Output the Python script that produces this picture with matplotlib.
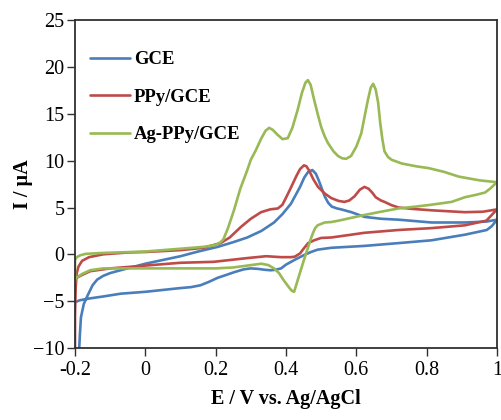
#!/usr/bin/env python3
"""
plot.py

Cyclic voltammograms of GCE, PPy/GCE and Ag-PPy/GCE.
Writes out.png (501 x 420 px).
"""

import matplotlib
matplotlib.use("Agg")
import matplotlib.pyplot as plt

# ============================================================
# DATA
# ============================================================

# GCE : forward scan then reverse scan
gce_potential = [
    -0.188, -0.186, -0.183, -0.175, -0.163, -0.15, -0.137, -0.12, -0.1,
    -0.071, -0.04, 0.0, 0.05, 0.1, 0.15, 0.206, 0.25, 0.29, 0.33, 0.366,
    0.39, 0.414, 0.44, 0.452, 0.463, 0.475, 0.485, 0.493, 0.5, 0.51, 0.52,
    0.53, 0.545, 0.557, 0.586, 0.623, 0.67, 0.72, 0.814, 0.909, 0.97, 1.0,
    0.985, 0.971, 0.909, 0.814, 0.72, 0.623, 0.529, 0.49, 0.471, 0.45,
    0.424, 0.4, 0.386, 0.37, 0.357, 0.34, 0.32, 0.3, 0.28, 0.253, 0.23,
    0.206, 0.18, 0.157, 0.13, 0.1, 0.05, 0.0, -0.07, -0.12, -0.157,
    -0.186, -0.2,
]
gce_current = [
    -10, -8.5, -6.7, -5.3, -4.3, -3.3, -2.7, -2.3, -2.0,
    -1.7, -1.4, -1.0, -0.6, -0.2, 0.3, 0.8, 1.3, 1.8, 2.5, 3.4,
    4.3, 5.4, 7.2, 8.2, 8.8, 9.0, 8.6, 7.9, 7.2, 6.2, 5.5,
    5.1, 4.9, 4.8, 4.5, 4.0, 3.8, 3.7, 3.4, 3.4, 3.5, 3.7,
    3.0, 2.6, 2.1, 1.5, 1.2, 0.9, 0.7, 0.5, 0.25, -0.1,
    -0.6, -1.1, -1.5, -1.65, -1.7, -1.65, -1.55, -1.5, -1.6, -1.9, -2.2,
    -2.5, -2.95, -3.3, -3.5, -3.6, -3.8, -4.0, -4.2, -4.5, -4.7,
    -4.9, -5.1,
]

# PPy/GCE
ppy_potential = [
    -0.2, -0.2, -0.198, -0.195, -0.19, -0.18, -0.16, -0.12, -0.05, 0.0,
    0.1, 0.166, 0.214, 0.24, 0.271, 0.3, 0.329, 0.355, 0.377, 0.39,
    0.406, 0.42, 0.43, 0.44, 0.451, 0.458, 0.465, 0.478, 0.491, 0.51,
    0.529, 0.55, 0.566, 0.58, 0.595, 0.61, 0.623, 0.635, 0.645, 0.655,
    0.67, 0.68, 0.7, 0.72, 0.76, 0.814, 0.909, 0.96, 1.0,
    0.97, 0.909, 0.814, 0.72, 0.623, 0.586, 0.529, 0.5, 0.48, 0.463,
    0.45, 0.44, 0.425, 0.414, 0.386, 0.343, 0.29, 0.194, 0.1, 0.0, -0.1,
    -0.157, -0.18, -0.2,
]
ppy_current = [
    -10, -6.5, -3.5, -2.0, -1.3, -0.7, -0.3, 0.0, 0.2, 0.25,
    0.45, 0.7, 1.2, 1.8, 2.9, 3.8, 4.5, 4.8, 4.9, 5.3,
    6.5, 7.6, 8.4, 9.1, 9.5, 9.4, 9.0, 8.0, 7.2, 6.5,
    6.0, 5.7, 5.6, 5.75, 6.2, 6.9, 7.2, 7.0, 6.6, 6.1,
    5.75, 5.6, 5.25, 5.0, 4.85, 4.7, 4.5, 4.55, 4.8,
    3.6, 3.1, 2.8, 2.6, 2.3, 2.1, 1.8, 1.75, 1.5, 1.2,
    0.6, 0.1, -0.25, -0.3, -0.3, -0.2, -0.4, -0.8, -0.9, -1.2, -1.5,
    -1.8, -2.2, -2.6,
]

# Ag-PPy/GCE
agppy_potential = [
    -0.2, -0.2, -0.195, -0.185, -0.17, -0.12, 0.0, 0.1, 0.166, 0.2,
    0.214, 0.222, 0.235, 0.252, 0.27, 0.29, 0.3, 0.314, 0.33, 0.342,
    0.352, 0.362, 0.375, 0.39, 0.405, 0.418, 0.433, 0.445, 0.455, 0.462,
    0.47, 0.48, 0.49, 0.5, 0.51, 0.519, 0.535, 0.548, 0.56, 0.571,
    0.585, 0.6, 0.614, 0.625, 0.633, 0.641, 0.648, 0.655, 0.662, 0.668,
    0.674, 0.68, 0.69, 0.7, 0.729, 0.77, 0.806, 0.85, 0.891, 0.95, 1.0,
    0.98, 0.966, 0.94, 0.909, 0.871, 0.814, 0.77, 0.72, 0.67, 0.623,
    0.586, 0.55, 0.529, 0.51, 0.49, 0.483, 0.477, 0.47, 0.465, 0.451,
    0.437, 0.428, 0.423, 0.417, 0.41, 0.394, 0.38, 0.366, 0.35, 0.33,
    0.31, 0.29, 0.25, 0.2, 0.0, -0.12, -0.157, -0.18, -0.2,
]
agppy_current = [
    -3.0, -0.6, -0.3, -0.1, 0.05, 0.15, 0.3, 0.6, 0.8, 1.0,
    1.3, 1.6, 2.8, 4.7, 7.0, 9.0, 10.1, 11.1, 12.4, 13.2,
    13.5, 13.3, 12.8, 12.3, 12.4, 13.5, 15.4, 17.2, 18.3, 18.6,
    18.1, 16.5, 15.0, 13.6, 12.6, 11.9, 11.0, 10.5, 10.25, 10.2,
    10.5, 11.5, 12.9, 15.0, 16.5, 17.8, 18.2, 17.6, 16.2, 14.0,
    12.3, 11.0, 10.4, 10.1, 9.7, 9.4, 9.2, 8.8, 8.3, 7.9, 7.7,
    7.0, 6.6, 6.35, 6.1, 5.6, 5.3, 5.1, 4.9, 4.55, 4.2,
    3.9, 3.6, 3.45, 3.4, 3.1, 2.8, 2.3, 1.6, 1.0, -0.6,
    -2.3, -3.4, -4.0, -3.9, -3.6, -2.8, -2.0, -1.5, -1.15, -1.0,
    -1.1, -1.2, -1.4, -1.5, -1.5, -1.5, -1.7, -2.1, -2.6,
]

labels = ["GCE", "PPy/GCE", "Ag-PPy/GCE"]
colors = ["#4a7ebb", "#be4b48", "#98b954"]

x_ticks = [-0.2, 0, 0.2, 0.4, 0.6, 0.8, 1]
x_tick_labels = ["-0.2", "0", "0.2", "0.4", "0.6", "0.8", "1"]
y_ticks = [-10, -5, 0, 5, 10, 15, 20, 25]


# ============================================================
# PLOT
# ============================================================

def main():

    plt.rcParams["font.family"] = ["Liberation Serif", "DejaVu Serif"]

    fig = plt.figure(figsize=(5.01, 4.20), dpi=100)
    ax = fig.add_axes([0.1497, 0.1714, 0.8423, 0.7806])

    curves = [
        (gce_potential, gce_current),
        (ppy_potential, ppy_current),
        (agppy_potential, agppy_current),
    ]

    for (x, y), label, color in zip(curves, labels, colors):
        ax.plot(x, y, color=color, lw=1.9, label=label,
                solid_joinstyle="round", solid_capstyle="round")

    ax.set_xlim(-0.2, 1.0)
    ax.set_ylim(-10, 25)

    ax.set_xticks(x_ticks)
    ax.set_xticklabels(x_tick_labels)
    ax.set_yticks(y_ticks)

    ax.tick_params(direction="out", length=5.5, width=1.0,
                   labelsize=14.5, color="#303030", pad=4)
    ax.tick_params(axis="y", pad=2)

    for side in ["left", "bottom", "top", "right"]:
        ax.spines[side].set_linewidth(1.3)
        ax.spines[side].set_color("#303030")

    ax.set_xlabel("E / V vs. Ag/AgCl", fontsize=14.5,
                  fontweight="bold", labelpad=6)
    ax.set_ylabel("I / \u00b5A", fontsize=14.5,
                  fontweight="bold", labelpad=0)

    ax.legend(
        loc="upper left",
        bbox_to_anchor=(0.0355, 0.905),
        frameon=False,
        prop={"family": "Liberation Serif", "weight": "bold", "size": 13.4},
        handlelength=2.15,
        handletextpad=0.2,
        labelspacing=1.1,
        borderpad=0,
        borderaxespad=0,
    )

    fig.savefig("out.png", dpi=100)
    plt.close(fig)


if __name__ == "__main__":
    main()
